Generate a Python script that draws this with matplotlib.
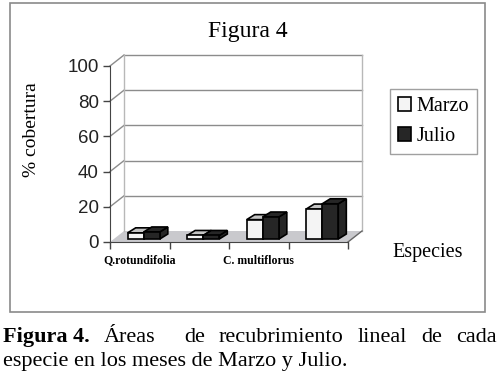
import matplotlib
matplotlib.use("Agg")
import matplotlib.pyplot as plt
from matplotlib.patches import Polygon, Rectangle, Patch

# datos (% cobertura)
especies = ["Q.rotundifolia", "", "C. multiflorus", ""]
marzo = [3.5, 2, 11, 17]
julio = [4, 2, 12.5, 20]
yticks = [0, 20, 40, 60, 80, 100]

SERIF = "Liberation Serif"
SANS = "Liberation Sans"

W, H = 500, 376
fig = plt.figure(figsize=(W / 100, H / 100), dpi=100)

# ----------------------------------------------------------------------------------------------------------------------
# ejes en el plano frontal (pixeles: x 110..348, y 242..66)
ax_l, ax_r, ax_b, ax_t = 110, 348, 242, 66
ax = fig.add_axes([ax_l / W, (H - ax_b) / H, (ax_r - ax_l) / W, (ax_b - ax_t) / H])
ax.set_xlim(-0.5, len(especies) - 0.5)
ax.set_ylim(0, 100)
ax.patch.set_alpha(0)

# conversion pixel -> unidades de datos
px_x = (len(especies)) / (ax_r - ax_l)
px_y = 100 / (ax_b - ax_t)

# profundidad de la pared de fondo y de las barras
DX, DY = 14 * px_x, 11 * px_y
SX, SY = 4 * px_x, 3 * px_y
BDX, BDY = 8 * px_x, 5 * px_y

x0, x1 = -0.5, len(especies) - 0.5
wall_col = "#b8b8b8"
grid_col = "#8c8c8c"

# suelo gris
ax.add_patch(Polygon([(x0, 0), (x1, 0), (x1 + DX, DY), (x0 + DX, DY)], closed=True,
                     facecolor="#c9c9cd", edgecolor="none", clip_on=False, zorder=1))
ax.plot([x1, x1 + DX], [0, DY], color="#666666", lw=1, clip_on=False, zorder=2)

# pared de fondo y lineas de rejilla
for t in yticks[1:]:
    ax.plot([x0 + DX, x1 + DX], [t + DY, t + DY], color=grid_col, lw=1, clip_on=False, zorder=1)
    ax.plot([x0, x0 + DX], [t, t + DY], color=grid_col, lw=1, clip_on=False, zorder=1)
ax.plot([x0 + DX, x0 + DX], [DY, 100 + DY], color=wall_col, lw=1, clip_on=False, zorder=1)
ax.plot([x1 + DX, x1 + DX], [DY, 100 + DY], color=wall_col, lw=1, clip_on=False, zorder=1)

# ----------------------------------------------------------------------------------------------------------------------
# barras pseudo 3D
bw = 0.27


def barra(xc, h, front, top, side):
    xa = xc - bw / 2 + SX
    xb = xc + bw / 2 + SX
    b = SY
    ax.add_patch(Polygon([(xb, b), (xb + BDX, b + BDY), (xb + BDX, b + h + BDY), (xb, b + h)],
                         closed=True, facecolor=side, edgecolor="black", lw=1.2, clip_on=False, zorder=3))
    ax.add_patch(Polygon([(xa, b + h), (xb, b + h), (xb + BDX, b + h + BDY), (xa + BDX, b + h + BDY)],
                         closed=True, facecolor=top, edgecolor="black", lw=1.2, clip_on=False, zorder=3))
    ax.add_patch(Rectangle((xa, b), xb - xa, h, facecolor=front, edgecolor="black", lw=1.2,
                           clip_on=False, zorder=3))


for i in range(len(especies)):
    barra(i - bw / 2, marzo[i], "#f4f4f4", "#c4c4c4", "#f4f4f4")
    barra(i + bw / 2, julio[i], "#262626", "#262626", "#262626")

# ----------------------------------------------------------------------------------------------------------------------
# ejes y etiquetas
for s in ["top", "right"]:
    ax.spines[s].set_visible(False)
ax.spines["left"].set_color("#444444")
ax.spines["bottom"].set_color("#444444")
ax.set_yticks(yticks)
ax.set_yticklabels([str(t) for t in yticks], fontfamily=SANS, fontsize=13.5, color="#222222")
ax.tick_params(axis="y", length=5, width=1, color="#444444", pad=3)
ax.set_xticks([i - 0.5 for i in range(len(especies) + 1)])
ax.set_xticklabels([])
ax.tick_params(axis="x", length=5, width=1, color="#444444")
ax.set_xticks(range(len(especies)), minor=True)
ax.set_xticklabels(especies, minor=True, fontfamily=SERIF, fontweight="bold", fontsize=8.5)
ax.tick_params(axis="x", which="minor", length=0, pad=9)

fig.text(32 / W, 1 - 130 / H, "% cobertura", rotation=90, ha="center", va="center",
         fontfamily=SERIF, fontsize=14)
fig.text(248 / W, 1 - 31 / H, "Figura 4", ha="center", va="center", fontfamily=SERIF, fontsize=17)
fig.text(428 / W, 1 - 252 / H, "Especies", ha="center", va="center", fontfamily=SERIF, fontsize=14.5)

handles = [Patch(facecolor="#f4f4f4", edgecolor="black", lw=1.2),
           Patch(facecolor="#262626", edgecolor="black", lw=1.2)]
leg = fig.legend(handles, ["Marzo", "Julio"], loc="upper left", bbox_to_anchor=(390 / W, 1 - 89 / H),
                 bbox_transform=fig.transFigure, borderaxespad=0, fancybox=False, frameon=True,
                 prop={"family": SERIF, "size": 14.5}, handlelength=0.65, handleheight=0.65,
                 handletextpad=0.25, labelspacing=0.55, borderpad=0.4)
leg.get_frame().set_edgecolor("#888888")
leg.get_frame().set_linewidth(1)

# marco exterior del grafico
fig.patches.append(Rectangle((10 / W, 1 - 312 / H), 475 / W, 309 / H, transform=fig.transFigure,
                             fill=False, edgecolor="#8a8a8a", lw=1.2))

# ----------------------------------------------------------------------------------------------------------------------
# pie de figura (primera linea justificada)
fig.canvas.draw()
rend = fig.canvas.get_renderer()
tokens = [("Figura 4.", "bold", 1), ("Áreas", "normal", 2), ("de", "normal", 1), ("recubrimiento", "normal", 1),
          ("lineal", "normal", 1), ("de", "normal", 1), ("cada", "normal", 0)]
txts = []
for w, fw, g in tokens:
    txts.append(fig.text(0, 1 - 342 / H, w, fontfamily=SERIF, fontsize=16, fontweight=fw,
                         ha="left", va="baseline"))
widths = [t.get_window_extent(rend).width for t in txts]
ngaps = sum(g for _, _, g in tokens)
gap = (497 - 3 - sum(widths)) / ngaps
x = 3
for t, wd, (_, _, g) in zip(txts, widths, tokens):
    t.set_x(x / W)
    x += wd + g * gap

fig.text(3 / W, 1 - 366 / H, "especie en los meses de Marzo y Julio.", fontfamily=SERIF, fontsize=16,
         ha="left", va="baseline")

fig.savefig("out.png", dpi=100)
